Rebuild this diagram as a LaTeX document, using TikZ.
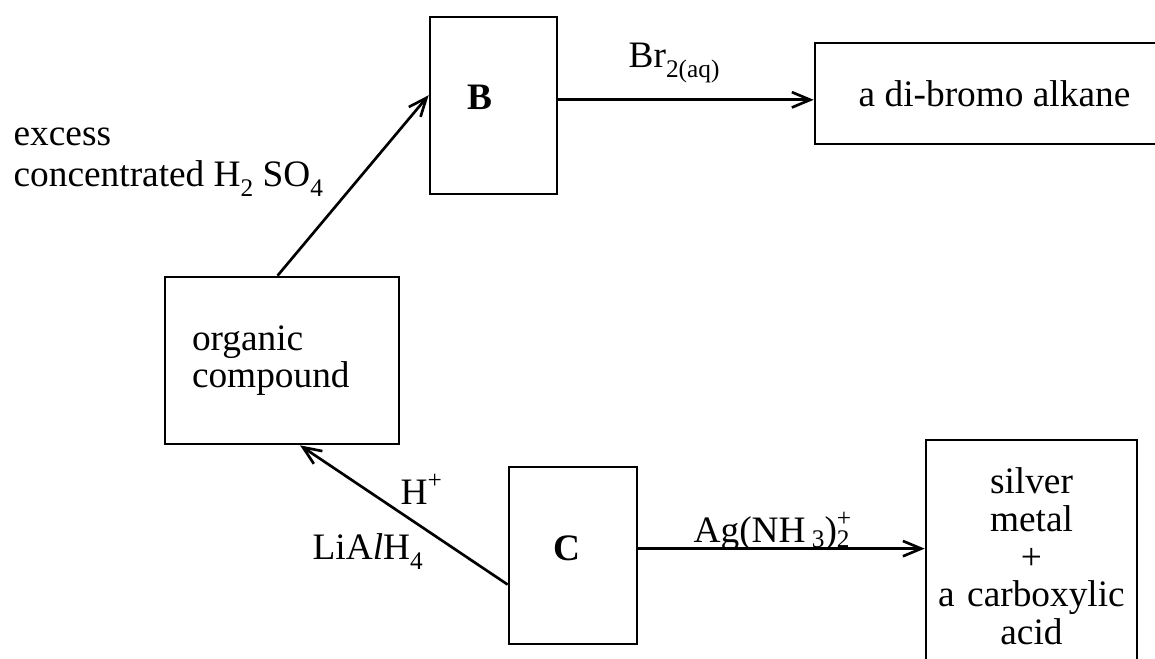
\documentclass[tikz,border=0pt]{standalone}
\usepackage{fontspec}
\setmainfont{Liberation Serif}
\usepackage{tikz}
\usetikzlibrary{arrows.meta}
\newcommand{\chemfont}{\fontsize{11.2pt}{11.3pt}\selectfont}
\newcommand{\chsub}[2][3pt]{\raisebox{-#1}{\fontsize{7.6pt}{7.6pt}\selectfont #2}}
\newcommand{\chsup}[1]{\raisebox{5pt}{\fontsize{7.6pt}{7.6pt}\selectfont #1}}
\tikzset{
	cpd/.style={draw, line width=0.8pt, inner ysep=0pt, font=\chemfont},
	reag/.style={inner sep=0pt, anchor=base west, font=\chemfont},
	arr/.style={-{Straight Barb[length=5.5pt, width=4.6pt]}, line width=0.8pt},
}

\begin{document}
\begin{tikzpicture}[x=0.3pt, y=-0.3pt]
				\useasboundingbox (0,0) rectangle (1155,659);
				\clip (0,0) rectangle (1155,659);
				% compounds
				\node[cpd, minimum height=50.1pt, text width=54pt, inner xsep=8.1pt, align=left] (org) at (282,360.5) {organic\\compound};
				\node[cpd, minimum height=53.1pt, text width=15.9pt, inner xsep=11.1pt, text depth=4.8pt, align=left] (B) at (493.5,105.5) {\textbf{B}};
				\node[cpd, minimum width=107.7pt, minimum height=30.3pt] (bro) at (994.5,93.5) {a di-bromo alkane};
				\node[cpd, minimum height=53.1pt, text width=12pt, inner xsep=13.2pt, text depth=4.5pt, align=left] (C) at (573,555.5) {\textbf{C}};
				\node[cpd, minimum height=69.9pt, text width=60pt, inner xsep=1.65pt, align=center] (silver) at (1031.5,556.5) {silver\\metal\\+\\a carboxylic\\acid};
				% reagents
				\node[reag, align=left] (h2so4) at (13,187) {excess\\[1pt]concentrated H\chsub{2} SO\chsub{4}};
				\node[reag] (br2) at (628,68) {Br\chsub{2(aq)}};
				\node[reag] (hplus) at (400,505) {H\chsup{+}};
				\node[reag] (lialh4) at (312,560) {LiA\textit{l}H\chsub{4}};
				\node[reag] (tollens) at (693,543) {Ag(NH\,\chsub[1.5pt]{3})\rlap{\chsup{+}}\chsub[1.5pt]{2}};
				\foreach \a/\b in {org.93/B.171, B.5/B.5 -| bro.west, C.204/org.282, C.6/C.6 -| silver.west}
				\draw[arr] (\a) -- (\b);
			\end{tikzpicture}
\end{document}
